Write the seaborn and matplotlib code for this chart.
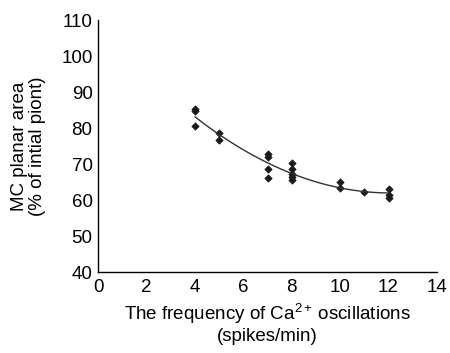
import numpy as np
import pandas as pd
import matplotlib
matplotlib.use("Agg")
import matplotlib.pyplot as plt
import seaborn as sns

# Valeurs
freq = [4, 4, 4, 5, 5, 7, 7, 7, 7, 8, 8, 8, 8, 8, 10, 10, 11, 12, 12, 12]
area = [85.3, 84.8, 80.6, 78.7, 76.7, 72.8, 72.0, 68.7, 66.1,
        70.4, 68.6, 67.2, 66.4, 65.5, 65.0, 63.4, 62.4, 63.1, 61.4, 60.6]
x_ticks = [0, 2, 4, 6, 8, 10, 12, 14]
y_ticks = [40, 50, 60, 70, 80, 90, 100, 110]

df = pd.DataFrame({"freq": freq, "area": area})

sns.set_style("white")
plt.rcParams['font.family'] = ['Liberation Sans', 'DejaVu Sans']
plt.rcParams['text.color'] = 'black'
plt.rcParams['axes.labelcolor'] = 'black'

fig = plt.figure(figsize=(4.5, 3.53), dpi=100)
ax = fig.add_axes([0.218, 0.229, 0.753, 0.714])

# Courbe de tendance polynomiale (ordre 2)
sns.regplot(data=df, x="freq", y="area", order=2, ci=None, scatter=False,
            truncate=True, color="#333333", line_kws={"linewidth": 1.0}, ax=ax)

sns.scatterplot(data=df, x="freq", y="area", marker="D", s=14,
                color="#1a1a1a", edgecolor="#1a1a1a", linewidth=0.5, ax=ax)

ax.set_xlim(0, 14)
ax.set_ylim(40, 110)
ax.set_xticks(x_ticks)
ax.set_yticks(y_ticks)
ax.tick_params(direction="in", length=4, width=1, labelsize=13.5,
               colors="black", labelcolor="black")
ax.tick_params(axis="x", pad=5)
ax.tick_params(axis="y", pad=4)

for side in ["top", "right"]:
    ax.spines[side].set_visible(False)
for side in ["left", "bottom"]:
    ax.spines[side].set_color("black")
    ax.spines[side].set_linewidth(1.0)

ax.set_xlabel("The frequency of Ca$^{\\mathregular{2+}}\\,$oscillations\n(spikes/min)",
              fontsize=13.5, labelpad=4, linespacing=1.1)
ax.set_ylabel("MC planar area\n(% of intial piont)", fontsize=13.5, labelpad=11,
              linespacing=1.1)

plt.savefig("out.png", dpi=100)
plt.close()
